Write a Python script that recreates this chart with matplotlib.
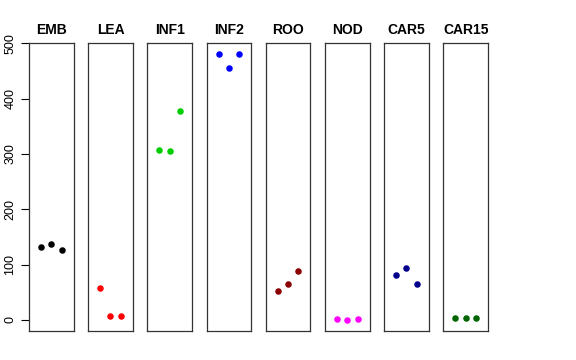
import matplotlib
matplotlib.use("Agg")
import matplotlib.pyplot as plt

plt.rcParams['font.family'] = ['Liberation Sans', 'DejaVu Sans']

tissues = ['EMB', 'LEA', 'INF1', 'INF2', 'ROO', 'NOD', 'CAR5', 'CAR15']
colors = ['black', 'red', '#00CD00', 'blue', '#8B0000', 'magenta', '#00008B', '#006400']
values = [
    [132, 137, 126],
    [57, 7, 6.5],
    [306.5, 306, 378],
    [481, 456, 480],
    [52, 65.5, 88],
    [2, 0.5, 2],
    [82, 94, 65],
    [4, 4, 4],
]
reps = [1, 2, 3]
yticks = [0, 100, 200, 300, 400, 500]

W, H = 576, 360
fig = plt.figure(figsize=(W / 100, H / 100), dpi=100)

left0, step, pw = 29, 59.2, 44.5
top, bottom = 43.3, 331

for i, (name, col, vals) in enumerate(zip(tissues, colors, values)):
    x0 = left0 + i * step
    ax = fig.add_axes([x0 / W, 1 - bottom / H, pw / W, (bottom - top) / H])
    ax.scatter(reps, vals, color=col, s=22, zorder=3, linewidths=0)
    ax.set_xlim(-0.16, 4.16)
    ax.set_ylim(-20, 500)
    ax.set_xticks([])
    ax.set_title(name, fontsize=10, fontweight='bold', pad=7)
    for sp in ax.spines.values():
        sp.set_linewidth(0.9)
        sp.set_color('#333333')
    if i == 0:
        ax.set_yticks(yticks)
        ax.set_yticklabels([str(t) for t in yticks], rotation=90, va='center', fontsize=9)
        ax.tick_params(axis='y', length=6, width=0.8, pad=3)
    else:
        ax.set_yticks([])

fig.savefig('out.png', dpi=100)
